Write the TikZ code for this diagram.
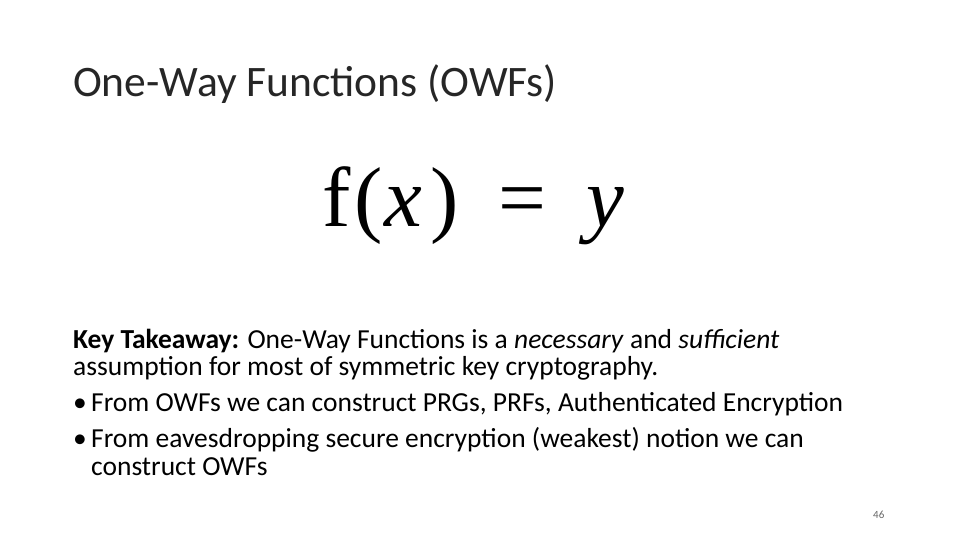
\documentclass[tikz,border=0pt]{standalone}
\usepackage{fontspec}
\setmainfont{Carlito}
\newfontfamily\mathserif{Liberation Serif}
\begin{document}
\begin{tikzpicture}[x=1pt,y=-1pt,
  txt/.style={anchor=base west,inner sep=0pt,font=\fontsize{27.5}{32}\selectfont}]
\useasboundingbox (0,0) rectangle (960,540);
\node[anchor=base west,inner sep=0pt,font=\fontsize{43.5}{50}\selectfont,text=black!85] (title) at (73,97) {One-Way Functions (OWFs)};
\node[anchor=base west,inner sep=0pt,font=\mathserif\fontsize{85}{95}\selectfont] (fx) at (322,226) {f\kern4pt(\kern2pt\textit{x}\kern8pt)\kern40pt=\kern40pt\textit{y}};
\node[txt] (l1) at (73,348) {\textbf{Key Takeaway:} One-Way Functions is a \textit{necessary} and \textit{sufficient}};
\node[txt] (l2) at (73,375) {assumption for most of symmetric key cryptography.};
\node[txt] (b1) at (73,411) {•};
\node[txt] (l3) at (91,411) {From OWFs we can construct PRGs, PRFs, Authenticated Encryption};
\node[txt] (b2) at (73,447) {•};
\node[txt] (l4) at (91,447) {From eavesdropping secure encryption (weakest) notion we can};
\node[txt] (l5) at (91,475) {construct OWFs};
\node[anchor=base west,inner sep=0pt,font=\fontsize{11}{13}\selectfont,text=black!60] (pg) at (873,518) {46};
\end{tikzpicture}
\end{document}
